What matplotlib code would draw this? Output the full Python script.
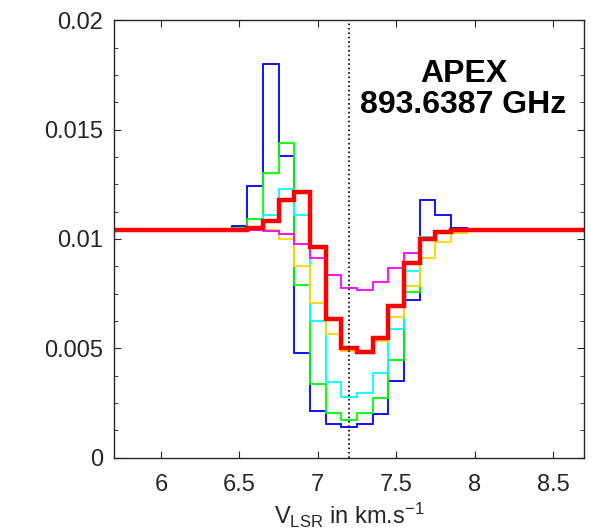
import matplotlib
matplotlib.use('Agg')
import matplotlib.pyplot as plt
from matplotlib.ticker import MultipleLocator

plt.rcParams['font.family'] = ['Liberation Sans', 'DejaVu Sans']
plt.rcParams['mathtext.fontset'] = 'custom'
plt.rcParams['mathtext.rm'] = 'Liberation Sans'
plt.rcParams['mathtext.it'] = 'Liberation Sans:italic'

# bin edges of the spectra (km/s), wide outer bins hold the continuum level
edges = [5.0, 6.45, 6.55, 6.65, 6.75, 6.85, 6.95, 7.05, 7.15, 7.25, 7.35,
         7.45, 7.55, 7.65, 7.75, 7.85, 7.95, 9.0]

blue = [0.0104, 0.0106, 0.0124, 0.0180, 0.0138, 0.0048, 0.00213, 0.00154, 0.00139,
        0.00154, 0.00198, 0.00352, 0.0072, 0.0118, 0.0111, 0.0105, 0.0104]
green = [0.0104, 0.0105, 0.0109, 0.0130, 0.0144, 0.0079, 0.00335, 0.00206, 0.00172,
         0.00203, 0.00271, 0.00446, 0.00757, 0.0101, 0.0103, 0.0104, 0.0104]
cyan = [0.0104, 0.0104, 0.0105, 0.0111, 0.0123, 0.0111, 0.00626, 0.00347, 0.00279,
        0.00294, 0.00386, 0.00588, 0.00854, 0.0101, 0.0103, 0.0104, 0.0104]
yellow = [0.0104, 0.0104, 0.0104, 0.0104, 0.0100, 0.00877, 0.00708, 0.00564, 0.00487,
          0.00485, 0.00533, 0.00644, 0.00786, 0.00911, 0.00987, 0.01025, 0.0104]
magenta = [0.0104, 0.0104, 0.0104, 0.01036, 0.01022, 0.00979, 0.00911, 0.00835, 0.00777,
           0.00766, 0.00801, 0.00865, 0.00934, 0.00995, 0.0103, 0.0104, 0.0104]
red = [0.0104, 0.0104, 0.0105, 0.0108, 0.0118, 0.01215, 0.00962, 0.00634, 0.00503,
       0.00484, 0.00545, 0.00693, 0.00888, 0.01002, 0.01032, 0.0104, 0.0104]

v_source = 7.2

fig = plt.figure(figsize=(6.03, 5.29), dpi=100)
ax = fig.add_axes([0.189, 0.1348, 0.78, 0.827])

ax.stairs(blue, edges, color='#0000ff', lw=1.3)
ax.stairs(green, edges, color='#00ff00', lw=1.3)
ax.stairs(cyan, edges, color='#00ffff', lw=1.3)
ax.stairs(yellow, edges, color='#ffd700', lw=1.3)
ax.stairs(magenta, edges, color='#ff00ff', lw=1.3)
ax.stairs(red, edges, color='#ff0000', lw=3.2)

ax.axvline(v_source, color='black', ls=':', lw=1.2)

ax.text(7.93, 0.01685, 'APEX\n893.6387 GHz', ha='center', va='center',
        fontsize=23, fontweight='bold', linespacing=1.05)

ax.set_xlim(5.7, 8.7)
ax.set_ylim(0, 0.02)
ax.set_xticks([6, 6.5, 7, 7.5, 8, 8.5])
ax.set_xticklabels(['6', '6.5', '7', '7.5', '8', '8.5'])
ax.set_yticks([0, 0.005, 0.01, 0.015, 0.02])
ax.set_yticklabels(['0', '0.005', '0.01', '0.015', '0.02'])
ax.yaxis.set_minor_locator(MultipleLocator(0.00125))
ax.tick_params(which='both', direction='in', top=True, right=True,
               labelsize=17, labelcolor='#262626', color='#262626')
ax.tick_params(which='major', length=5)
ax.tick_params(axis='x', which='major', pad=12)
ax.tick_params(axis='y', which='major', pad=8)
ax.tick_params(which='minor', length=3)
for s in ax.spines.values():
    s.set_color('#262626')
    s.set_linewidth(1.0)

ax.set_xlabel(r'V$_{\rm LSR}$ in km.s$^{-1}$', fontsize=17, color='#262626', labelpad=3)

fig.savefig('out.png', dpi=100)
